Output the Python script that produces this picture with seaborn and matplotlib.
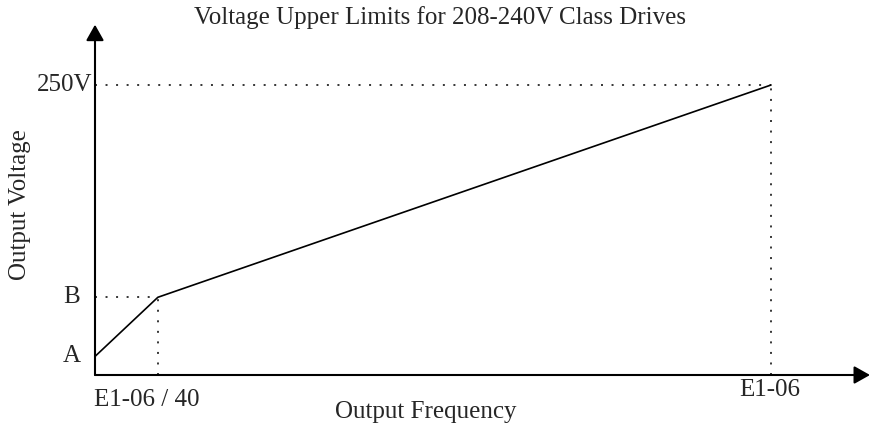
import matplotlib
matplotlib.use("Agg")
import matplotlib.pyplot as plt
import seaborn as sns
import pandas as pd

# Voltage/frequency pattern (frequency as a fraction of E1-06, voltage in volts)
freq_points = [0.0, 0.093, 1.0]
volt_points = [16, 67, 250]

# Marker labels on each axis
y_tick_values = [16, 67, 250]
y_tick_labels = ["A", "B", "250V"]
x_tick_values = [0.093, 1.0]
x_tick_labels = ["E1-06 / 40", "E1-06"]

title = "Voltage Upper Limits for 208-240V Class Drives"
x_title = "Output Frequency"
y_title = "Output Voltage"

sns.set_style("white")
plt.rcParams["font.family"] = ["Liberation Serif", "DejaVu Serif"]

W, H = 870, 429
fig = plt.figure(figsize=(W / 100, H / 100), dpi=100)
ax = fig.add_axes([95 / W, (H - 375) / H, 775 / W, 348 / H])
x_max, y_max = 1.1464, 300
ax.set_xlim(0, x_max)
ax.set_ylim(0, y_max)
ax.axis("off")

# Main V/f curve
curve = pd.DataFrame({"freq": freq_points, "volt": volt_points})
sns.lineplot(data=curve, x="freq", y="volt", ax=ax, color="black",
             linewidth=1.2, sort=False, estimator=None)

# Dotted guides from the breakpoints to the axes
dot = dict(color="black", linewidth=1.1, dashes=(1.3, 5.6))
for fx, vy in [(freq_points[1], volt_points[1]), (freq_points[2], volt_points[2])]:
    ax.plot([0, fx], [vy, vy], **dot)
    ax.plot([fx, fx], [0, vy], **dot)

# Axes with arrow heads
arrow = dict(arrowstyle="-|>,head_length=0.8,head_width=0.45", color="black",
             lw=1.5, shrinkA=0, shrinkB=0, mutation_scale=12)
ax.annotate("", xy=(x_max, 0), xytext=(0, 0), arrowprops=arrow,
            annotation_clip=False)
ax.annotate("", xy=(0, y_max + 2), xytext=(0, 0), arrowprops=arrow,
            annotation_clip=False)

fs = 18
# Voltage markers (offsets in pixels from the y axis)
y_offsets = [-14, -15, -3]
for v, lab, off in zip(y_tick_values, y_tick_labels, y_offsets):
    ax.annotate(lab, xy=(0, v), xytext=(off, 0), textcoords="offset pixels",
                ha="right", va="center", fontsize=fs, annotation_clip=False)

# Frequency markers (offsets in pixels from the x axis)
x_offsets = [(-11, -25), (-1, -15)]
for f, lab, (dx, dy) in zip(x_tick_values, x_tick_labels, x_offsets):
    ax.annotate(lab, xy=(f, 0), xytext=(dx, dy), textcoords="offset pixels",
                ha="center", va="center", fontsize=fs, annotation_clip=False)

fig.text(440 / W, 1 - 18 / H, title, ha="center", va="center", fontsize=fs)
fig.text(426 / W, 1 - 412 / H, x_title, ha="center", va="center", fontsize=fs)
fig.text(20 / W, 1 - 205 / H, y_title, ha="center", va="center",
         rotation=90, fontsize=fs)

fig.savefig("out.png", dpi=100, facecolor="white")
